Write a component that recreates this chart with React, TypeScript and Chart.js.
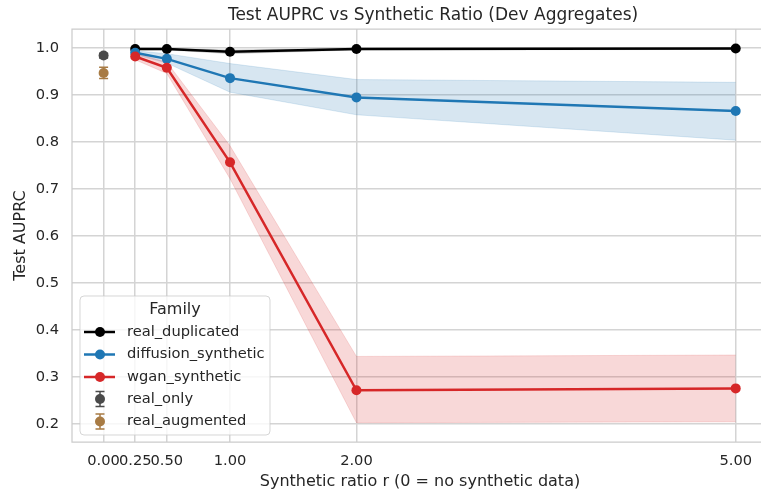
import React, { useEffect, useRef } from 'react';
import { Chart, registerables } from 'chart.js';

Chart.register(...registerables);

// ---------- data ----------
const ratios = [0.25, 0.5, 1, 2, 5];

const dupMean = [0.998, 0.998, 0.992, 0.998, 0.999];
const dupLow = [0.996, 0.996, 0.988, 0.996, 0.997];
const dupHigh = [0.999, 0.999, 0.996, 0.999, 1.0];

const diffMean = [0.99, 0.977, 0.936, 0.895, 0.866];
const diffLow = [0.986, 0.968, 0.906, 0.858, 0.804];
const diffHigh = [0.994, 0.988, 0.967, 0.933, 0.927];

const wganMean = [0.982, 0.958, 0.757, 0.272, 0.276];
const wganLow = [0.975, 0.946, 0.722, 0.203, 0.205];
const wganHigh = [0.989, 0.97, 0.792, 0.344, 0.347];

const baselineNames = ['real_only', 'real_augmented'];
const baselineX = [0, 0];
const baselineMean = [0.984, 0.947];
const baselineErr = [0.005, 0.012];

const xTicks = [0, 0.25, 0.5, 1, 2, 5];
const yTicks = [0.2, 0.3, 0.4, 0.5, 0.6, 0.7, 0.8, 0.9, 1.0];

const familyNames = ['real_duplicated', 'diffusion_synthetic', 'wgan_synthetic'];

const TITLE = 'Test AUPRC vs Synthetic Ratio (Dev Aggregates)';
const X_TITLE = 'Synthetic ratio r (0 = no synthetic data)';
const Y_TITLE = 'Test AUPRC';
const LEGEND_TITLE = 'Family';

// ---------- styles ----------
const FONT = "'DejaVu Sans', sans-serif";
const TEXT = '#262626';
const GRID = '#d4d4d4';
const C_DUP = '#000000';
const C_DIFF = '#1f77b4';
const C_WGAN = '#d62728';
const C_ONLY = '#4a4a4a';
const C_AUG = '#a87b44';
const lineColors = [C_DUP, C_DIFF, C_WGAN];
const baseColors = [C_ONLY, C_AUG];
const TICK_SIZE = 14.67;
const MARKER = 5;

function rgba(hex: string, a: number) {
  const n = parseInt(hex.slice(1), 16);
  return `rgba(${(n >> 16) & 255},${(n >> 8) & 255},${n & 255},${a})`;
}

function pts(ys: number[]) {
  return ratios.map((x, i) => ({ x, y: ys[i] }));
}

function bandSets(low: number[], high: number[], color: string, order: number) {
  return [
    {
      data: pts(low),
      borderColor: rgba(color, 0.15),
      borderWidth: 1,
      pointRadius: 0,
      fill: false,
      order,
    },
    {
      data: pts(high),
      borderColor: rgba(color, 0.15),
      borderWidth: 1,
      pointRadius: 0,
      backgroundColor: rgba(color, 0.18),
      fill: '-1',
      order,
    },
  ];
}

function lineSet(ys: number[], color: string, order: number) {
  return {
    data: pts(ys),
    borderColor: color,
    backgroundColor: color,
    borderWidth: 2.5,
    pointRadius: MARKER,
    pointBackgroundColor: color,
    pointBorderWidth: 0,
    fill: false,
    order,
  };
}

const overlayPlugin = {
  id: 'overlay',
  beforeDatasetsDraw(chart: any) {
    const ctx = chart.ctx;
    const xs = chart.scales.x;
    const ys = chart.scales.y;
    ctx.save();
    baselineMean.forEach((m, i) => {
      const px = xs.getPixelForValue(baselineX[i]);
      const top = ys.getPixelForValue(m + baselineErr[i]);
      const bot = ys.getPixelForValue(m - baselineErr[i]);
      ctx.strokeStyle = baseColors[i];
      ctx.lineWidth = 1.5;
      ctx.beginPath();
      ctx.moveTo(px, top);
      ctx.lineTo(px, bot);
      ctx.moveTo(px - 4.5, top);
      ctx.lineTo(px + 4.5, top);
      ctx.moveTo(px - 4.5, bot);
      ctx.lineTo(px + 4.5, bot);
      ctx.stroke();
    });
    ctx.restore();
  },
  afterDraw(chart: any) {
    const ctx = chart.ctx;
    const a = chart.chartArea;
    ctx.save();
    // frame
    ctx.strokeStyle = '#cccccc';
    ctx.lineWidth = 1.25;
    ctx.beginPath();
    ctx.moveTo(a.right + 10, a.top);
    ctx.lineTo(a.left, a.top);
    ctx.lineTo(a.left, a.bottom);
    ctx.lineTo(a.right + 10, a.bottom);
    ctx.stroke();

    // titles
    ctx.fillStyle = TEXT;
    ctx.textAlign = 'center';
    ctx.textBaseline = 'middle';
    ctx.font = `17px ${FONT}`;
    ctx.fillText(TITLE, 433, 16);
    ctx.font = `16px ${FONT}`;
    ctx.fillText(X_TITLE, 420, 482);
    ctx.save();
    ctx.translate(21, (a.top + a.bottom) / 2);
    ctx.rotate(-Math.PI / 2);
    ctx.fillText(Y_TITLE, 0, 0);
    ctx.restore();

    // legend
    const L = 80, T = 296, R = 270, B = 435, rad = 4;
    ctx.beginPath();
    ctx.moveTo(L + rad, T);
    ctx.arcTo(R, T, R, B, rad);
    ctx.arcTo(R, B, L, B, rad);
    ctx.arcTo(L, B, L, T, rad);
    ctx.arcTo(L, T, R, T, rad);
    ctx.closePath();
    ctx.fillStyle = 'rgba(255,255,255,0.8)';
    ctx.fill();
    ctx.strokeStyle = 'rgba(204,204,204,0.8)';
    ctx.lineWidth = 1;
    ctx.stroke();

    ctx.fillStyle = TEXT;
    ctx.font = `16px ${FONT}`;
    ctx.textAlign = 'center';
    ctx.fillText(LEGEND_TITLE, 175, 310);

    const rowY = [332, 354.5, 377, 399, 421.5];
    ctx.font = `${TICK_SIZE}px ${FONT}`;
    ctx.textAlign = 'left';
    familyNames.forEach((name, i) => {
      const y = rowY[i];
      ctx.strokeStyle = lineColors[i];
      ctx.lineWidth = 2.5;
      ctx.beginPath();
      ctx.moveTo(84, y);
      ctx.lineTo(115, y);
      ctx.stroke();
      ctx.fillStyle = lineColors[i];
      ctx.beginPath();
      ctx.arc(100, y, MARKER, 0, Math.PI * 2);
      ctx.fill();
      ctx.fillStyle = TEXT;
      ctx.fillText(name, 127, y);
    });
    baselineNames.forEach((name, j) => {
      const y = rowY[3 + j];
      ctx.strokeStyle = baseColors[j];
      ctx.lineWidth = 1.5;
      ctx.beginPath();
      ctx.moveTo(100, y - 7.5);
      ctx.lineTo(100, y + 7.5);
      ctx.moveTo(95.5, y - 7.5);
      ctx.lineTo(104.5, y - 7.5);
      ctx.moveTo(95.5, y + 7.5);
      ctx.lineTo(104.5, y + 7.5);
      ctx.stroke();
      ctx.fillStyle = baseColors[j];
      ctx.beginPath();
      ctx.arc(100, y, MARKER, 0, Math.PI * 2);
      ctx.fill();
      ctx.fillStyle = TEXT;
      ctx.fillText(name, 127, y);
    });
    ctx.restore();
  },
};

export default function App() {
  const ref = useRef<HTMLCanvasElement | null>(null);

  useEffect(() => {
    if (!ref.current) return;
    const datasets: any[] = [
      ...bandSets(dupLow, dupHigh, '#333333', 12),
      ...bandSets(diffLow, diffHigh, C_DIFF, 11),
      ...bandSets(wganLow, wganHigh, C_WGAN, 10),
      lineSet(dupMean, C_DUP, 3),
      lineSet(diffMean, C_DIFF, 2),
      lineSet(wganMean, C_WGAN, 1),
      ...baselineMean.map((m, i) => ({
        data: [{ x: baselineX[i], y: m }],
        showLine: false,
        pointRadius: MARKER,
        pointBorderWidth: 0,
        pointBackgroundColor: baseColors[i],
        backgroundColor: baseColors[i],
        borderColor: baseColors[i],
        order: 0,
      })),
    ];

    const chart = new Chart(ref.current, {
      type: 'line',
      data: { datasets },
      options: {
        responsive: false,
        animation: false,
        devicePixelRatio: 1,
        layout: { autoPadding: false, padding: { top: 29, left: 0, right: 0, bottom: 0 } },
        plugins: {
          legend: { display: false },
          tooltip: { enabled: false },
          title: { display: false },
        },
        scales: {
          x: {
            type: 'linear',
            min: -0.25,
            max: 5.2,
            afterBuildTicks: (s: any) => {
              s.ticks = xTicks.map((v) => ({ value: v }));
            },
            afterFit: (s: any) => {
              s.height = 53;
              s.paddingLeft = 0;
              s.paddingRight = 0;
            },
            grid: { color: GRID, lineWidth: 1.5, drawTicks: false },
            border: { display: false },
            ticks: {
              padding: 10,
              autoSkip: false,
              maxRotation: 0,
              color: TEXT,
              font: { family: FONT, size: TICK_SIZE },
              callback: (v: any) => Number(v).toFixed(2),
            },
          },
          y: {
            type: 'linear',
            min: 0.162,
            max: 1.0405,
            afterBuildTicks: (s: any) => {
              s.ticks = yTicks.map((v) => ({ value: v }));
            },
            afterFit: (s: any) => {
              s.width = 72;
              s.paddingTop = 0;
              s.paddingBottom = 0;
            },
            grid: { color: GRID, lineWidth: 1.5, drawTicks: false },
            border: { display: false },
            ticks: {
              padding: 13,
              color: TEXT,
              font: { family: FONT, size: TICK_SIZE },
              callback: (v: any) => Number(v).toFixed(1),
            },
          },
        },
      } as any,
      plugins: [overlayPlugin],
    });
    return () => chart.destroy();
  }, []);

  return (
    <div
      style={{
        position: 'fixed',
        left: 0,
        top: 0,
        width: 761,
        height: 495,
        overflow: 'hidden',
        background: '#ffffff',
      }}
    >
      <canvas ref={ref} width={761} height={495} style={{ width: 761, height: 495, display: 'block' }} />
    </div>
  );
}
